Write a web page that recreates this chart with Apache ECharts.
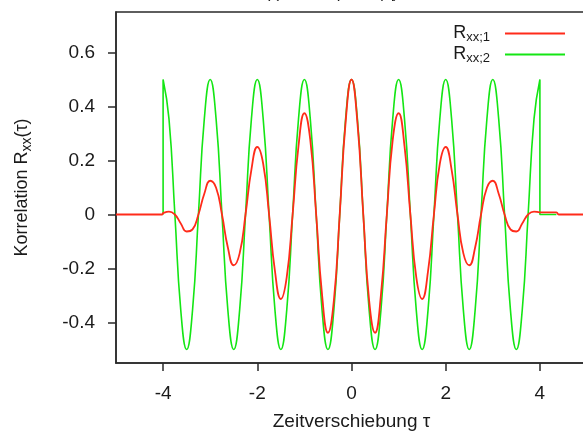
<!DOCTYPE html>
<html>
<head>
<meta charset="utf-8">
<script src="https://cdn.jsdelivr.net/npm/echarts@6/dist/echarts.min.js"></script>
<style>
html, body { margin: 0; padding: 0; background: #fff; }
#chart { width: 583px; height: 433px; }
</style>
</head>
<body>
<div id="chart"></div>
<script>
// Time shift samples (step 1/8) inside the support |tau| <= 4
const tau = [
  -4, -3.875, -3.75, -3.625, -3.5, -3.375, -3.25, -3.125,
  -3, -2.875, -2.75, -2.625, -2.5, -2.375, -2.25, -2.125,
  -2, -1.875, -1.75, -1.625, -1.5, -1.375, -1.25, -1.125,
  -1, -0.875, -0.75, -0.625, -0.5, -0.375, -0.25, -0.125,
  0, 0.125, 0.25, 0.375, 0.5, 0.625, 0.75, 0.875,
  1, 1.125, 1.25, 1.375, 1.5, 1.625, 1.75, 1.875,
  2, 2.125, 2.25, 2.375, 2.5, 2.625, 2.75, 2.875,
  3, 3.125, 3.25, 3.375, 3.5, 3.625, 3.75, 3.875,
  4
];

// R_xx;1 : decaying oscillation
const rxx1 = [
  0.005, 0.011, 0, -0.033, -0.063, -0.055, 0, 0.077,
  0.125, 0.099, 0, -0.122, -0.188, -0.144, 0, 0.166,
  0.25, 0.188, 0, -0.210, -0.313, -0.232, 0, 0.254,
  0.375, 0.276, 0, -0.298, -0.438, -0.320, 0, 0.342,
  0.5, 0.342, 0, -0.320, -0.438, -0.298, 0, 0.276,
  0.375, 0.254, 0, -0.232, -0.313, -0.210, 0, 0.188,
  0.25, 0.166, 0, -0.144, -0.188, -0.122, 0, 0.099,
  0.125, 0.077, 0, -0.055, -0.063, -0.033, 0, 0.011,
  0.008
];

// R_xx;2 : constant-amplitude oscillation
const rxx2 = [
  0.5, 0.354, 0, -0.354, -0.5, -0.354, 0, 0.354,
  0.5, 0.354, 0, -0.354, -0.5, -0.354, 0, 0.354,
  0.5, 0.354, 0, -0.354, -0.5, -0.354, 0, 0.354,
  0.5, 0.354, 0, -0.354, -0.5, -0.354, 0, 0.354,
  0.5, 0.354, 0, -0.354, -0.5, -0.354, 0, 0.354,
  0.5, 0.354, 0, -0.354, -0.5, -0.354, 0, 0.354,
  0.5, 0.354, 0, -0.354, -0.5, -0.354, 0, 0.354,
  0.5, 0.354, 0, -0.354, -0.5, -0.354, 0, 0.354,
  0.5
];

// Values outside the main sample range
const r1LeadTau = [-5, -4.02];
const r1LeadVal = [0, 0];
const r1TailTau = [4.35, 4.4, 5];
const r1TailVal = [0.008, 0, 0];
const r2LeadTau = [-4];
const r2LeadVal = [0];
const r2TailTau = [4, 4.35];
const r2TailVal = [0, 0];

const xTicks = [-4, -2, 0, 2, 4];
const yTicks = [-0.4, -0.2, 0, 0.2, 0.4, 0.6];

const zip = (xs, ys) => xs.map((x, i) => [x, ys[i]]);
const r1Data = zip(r1LeadTau, r1LeadVal).concat(zip(tau, rxx1), zip(r1TailTau, r1TailVal));
const r2Data = zip(r2LeadTau, r2LeadVal).concat(zip(tau, rxx2), zip(r2TailTau, r2TailVal));

const FONT = 'Liberation Sans, Arial, sans-serif';
const TXT = '#1a1a1a';
const AXIS = '#2a2a2a';
const RED = '#ff2b1a';
const GREEN = '#14e614';

const chart = echarts.init(document.getElementById('chart'), null, { renderer: 'canvas' });

chart.setOption({
  animation: false,
  backgroundColor: '#fff',
  textStyle: { fontFamily: FONT, color: TXT },
  graphic: [{
    type: 'text',
    left: 254,
    top: -15,
    style: {
      text: 'R(τ) = max(0, 1−|τ|)',
      font: 'italic 17px ' + FONT,
      fill: TXT
    }
  }],
  grid: {
    left: 116,
    top: 12,
    right: -4,
    bottom: 70,
    outerBoundsMode: 'none',
    containLabel: false,
    show: true,
    borderColor: AXIS,
    borderWidth: 1.5
  },
  legend: {
    data: ['xx;1', 'xx;2'],
    orient: 'vertical',
    align: 'right',
    right: 18,
    top: 23,
    padding: 0,
    itemWidth: 60,
    itemHeight: 2,
    itemGap: 0,
    icon: 'rect',
    formatter: name => '{r|R}{s|' + name + '}',
    textStyle: {
      rich: {
        r: { fontFamily: FONT, fontSize: 18, color: TXT, lineHeight: 16 },
        s: { fontFamily: FONT, fontSize: 13, color: TXT, lineHeight: 14, padding: [8, 10, 0, 0] }
      }
    }
  },
  xAxis: {
    type: 'value',
    min: -5,
    max: 5,
    name: 'Zeitverschiebung τ',
    nameLocation: 'middle',
    nameGap: 49,
    nameTextStyle: { fontFamily: FONT, fontSize: 19, color: TXT },
    axisLine: { show: true, onZero: false, lineStyle: { color: AXIS, width: 1.5 } },
    axisTick: { show: true, customValues: xTicks, length: 8, lineStyle: { color: AXIS, width: 1.5 } },
    axisLabel: {
      customValues: xTicks,
      margin: 21,
      fontFamily: FONT,
      fontSize: 19,
      color: TXT,
      formatter: v => String(v)
    },
    splitLine: { show: false }
  },
  yAxis: {
    type: 'value',
    min: -0.55,
    max: 0.75,
    name: 'Korrelation R{s|xx}(τ)',
    nameLocation: 'middle',
    nameGap: 82,
    nameTextStyle: {
      fontFamily: FONT, fontSize: 18, color: TXT,
      rich: {
        s: { fontFamily: FONT, fontSize: 14, color: TXT, padding: [9, 0, 0, 0] }
      }
    },
    axisLine: { show: true, onZero: false, lineStyle: { color: AXIS, width: 1.5 } },
    axisTick: { show: true, customValues: yTicks, length: 8, lineStyle: { color: AXIS, width: 1.5 } },
    axisLabel: {
      customValues: yTicks,
      margin: 21,
      fontFamily: FONT,
      fontSize: 19,
      color: TXT,
      formatter: v => (v === 0 ? '0' : v.toFixed(1))
    },
    splitLine: { show: false }
  },
  series: [
    {
      name: 'xx;2',
      type: 'line',
      data: r2Data,
      showSymbol: false,
      smooth: 0.5,
      color: GREEN,
      lineStyle: { color: GREEN, width: 1.6 },
      z: 2
    },
    {
      name: 'xx;1',
      type: 'line',
      data: r1Data,
      showSymbol: false,
      smooth: 0.5,
      color: RED,
      lineStyle: { color: RED, width: 1.8 },
      z: 3
    }
  ]
});
</script>
</body>
</html>
